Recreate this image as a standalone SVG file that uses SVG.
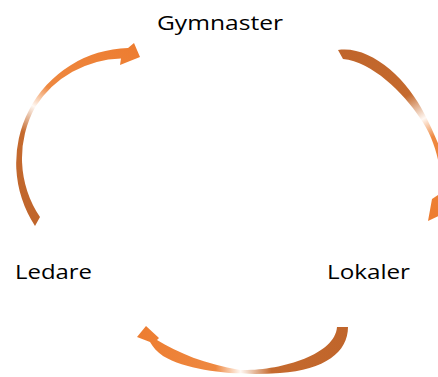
<svg xmlns="http://www.w3.org/2000/svg" width="438" height="377" viewBox="0 0 438 377">
<defs>
<style>
.lbl{font-family:"Open Sans","Noto Sans","Liberation Sans",sans-serif;font-weight:400;font-size:20px;fill:#000}
</style>
<linearGradient id="gL" gradientUnits="userSpaceOnUse" x1="38" y1="222" x2="135" y2="50">
<stop offset="0" stop-color="#C0652B"/><stop offset="0.36" stop-color="#C56A2E"/><stop offset="0.5" stop-color="#FFF8F3"/><stop offset="0.62" stop-color="#EE8840"/><stop offset="1" stop-color="#ED7D31"/>
</linearGradient>
<linearGradient id="gR" gradientUnits="userSpaceOnUse" x1="340" y1="52" x2="432" y2="215">
<stop offset="0" stop-color="#C0652B"/><stop offset="0.38" stop-color="#C56A2E"/><stop offset="0.53" stop-color="#FFF8F3"/><stop offset="0.64" stop-color="#EE8840"/><stop offset="1" stop-color="#ED7D31"/>
</linearGradient>
<linearGradient id="gB" gradientUnits="userSpaceOnUse" x1="345" y1="330" x2="138" y2="336">
<stop offset="0" stop-color="#C0652B"/><stop offset="0.36" stop-color="#C56A2E"/><stop offset="0.51" stop-color="#FFF8F3"/><stop offset="0.63" stop-color="#EE8840"/><stop offset="1" stop-color="#ED7D31"/>
</linearGradient>
</defs>
<g id="connectors">
<path id="arrow-ledare-gymnaster" fill="url(#gL)" d="M 35,226 A 115 115 0 0 1 128,48 L 134,43 L 140,57 L 120,65 L 121,58.4 A 105 105 0 0 0 35.7,106.3 A 105 105 0 0 0 40,217 Z"/>
<path id="arrow-gymnaster-lokaler" fill="url(#gR)" d="M 338,50 C 370,45 407,78 425,115 C 434,133 447,160 451,190 L 456,208 L 428,221 L 432,199 L 441,193 C 442,170 436,140 420,118 C 403,92 372,62 343,59 Z"/>
<path id="arrow-lokaler-ledare" fill="url(#gB)" d="M 348,327 C 348,352 325,370 280,373 C 240,376 190,372 163,356 C 157,352 153,347 150,342 L 137,337 L 146,326 L 159,338 L 157,340 C 178,353 205,364 240,370 C 280,371 335,355 337,327 Z"/>
</g>
<g id="node-gymnaster"><text class="lbl" x="157" y="30" textLength="126" lengthAdjust="spacingAndGlyphs">Gymnaster</text></g>
<g id="node-ledare"><text class="lbl" x="15" y="279" textLength="77" lengthAdjust="spacingAndGlyphs">Ledare</text></g>
<g id="node-lokaler"><text class="lbl" x="327" y="279" textLength="83" lengthAdjust="spacingAndGlyphs">Lokaler</text></g>
</svg>
